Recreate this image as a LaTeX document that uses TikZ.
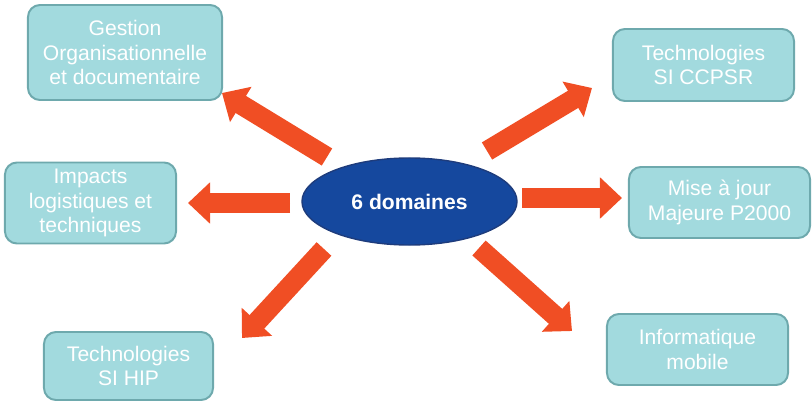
\documentclass[tikz,border=0pt]{standalone}
\usepackage{fontspec}
\setmainfont{Liberation Sans}
\usetikzlibrary{arrows.meta, shapes.geometric}

\definecolor{boxfill}{HTML}{A2DADE}
\definecolor{boxline}{HTML}{6EA9AD}
\definecolor{ovalfill}{HTML}{15489E}
\definecolor{ovalline}{HTML}{1E3C7C}
\definecolor{arrowred}{HTML}{F04E24}

\tikzset{
    topic/.style={rectangle, rounded corners=0.3cm, fill=boxfill, draw=boxline, line width=1.4pt,
        text=white, align=center, inner sep=0pt, font=\fontsize{15}{17.7}\selectfont},
    bigarrow/.style={draw=arrowred, fill=arrowred, line width=0.5cm,
        -{Triangle[length=0.55cm, width=1.0cm]}},
}

\begin{document}
\begin{tikzpicture}[x=0.025cm, y=-0.025cm]
        \useasboundingbox (0,0) rectangle (812,401);

        \node[ellipse, fill=ovalfill, draw=ovalline, line width=1pt, minimum width=5.375cm, minimum height=2.175cm,
            text=white, font=\fontsize{15}{17.7}\selectfont\bfseries] (dom) at (409.5,201.5) {6 domaines};

        \node[topic, minimum width=4.85cm, minimum height=2.375cm] (gest) at (125,52.5) {Gestion\\Organisationnelle\\et documentaire};
        \node[topic, minimum width=4.275cm, minimum height=2.025cm] (impact) at (90.5,203) {Impacts\\logistiques et\\techniques};
        \node[topic, minimum width=4.225cm, minimum height=1.7cm] (hip) at (128.5,366) {Technologies\\SI HIP};
        \node[topic, minimum width=4.525cm, minimum height=1.8cm] (ccpsr) at (703.5,65) {Technologies\\SI CCPSR};
        \node[topic, minimum width=4.525cm, minimum height=1.775cm] (maj) at (719.5,202.5) {Mise à jour\\Majeure P2000};
        \node[topic, minimum width=4.525cm, minimum height=1.775cm] (mobile) at (697.5,349.5) {Informatique\\mobile};

        % arrow ends
        \coordinate (s1) at (327,157);  \coordinate (e1) at (222,93);
        \coordinate (s2) at (290,203);  \coordinate (e2) at (188,203);
        \coordinate (s3) at (324,249);  \coordinate (e3) at (242,338);
        \coordinate (s4) at (487,151);  \coordinate (e4) at (592,88);
        \coordinate (s5) at (522,198);  \coordinate (e5) at (622,198);
        \coordinate (s6) at (479,248);  \coordinate (e6) at (572,331);

        \draw[bigarrow] (s1) -- (e1);
        \draw[bigarrow] (s2) -- (e2);
        \draw[bigarrow] (s3) -- (e3);
        \draw[bigarrow] (s4) -- (e4);
        \draw[bigarrow] (s5) -- (e5);
        \draw[bigarrow] (s6) -- (e6);
\end{tikzpicture}
\end{document}
